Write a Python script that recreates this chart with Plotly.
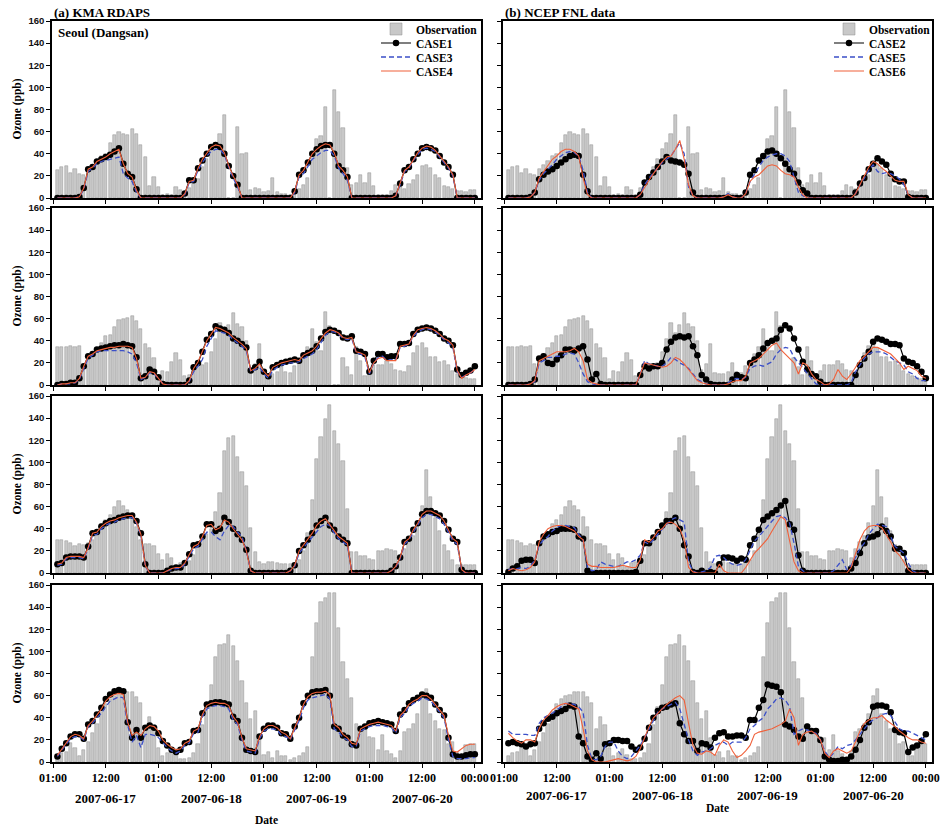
import plotly.graph_objects as go

# ---------------- data ----------------
HOURS = list(range(2, 98))  # hourly index, 01:00 2007-06-17 == 1
TICK_VALS = [1, 13, 25, 37, 49, 61, 73, 85, 97]
TICK_TEXT = ["01:00", "12:00", "01:00", "12:00", "01:00", "12:00", "01:00", "12:00", "00:00"]
DATE_POS = [13, 37, 61, 85]
DATE_TEXT = ["2007-06-17", "2007-06-18", "2007-06-19", "2007-06-20"]
Y_TICKS = [0, 20, 40, 60, 80, 100, 120, 140, 160]

# Observations (same in both columns)
OBS_ROW1 = [25, 28, 29, 23, 26, 22, 21, 26, 30, 33, 38, 40,
            50, 57, 60, 58, 57, 62, 58, 48, 37, 11, 19, 10,
            3, 4, 3, 10, 7, 3, 9, 14, 17, 28, 35, 44,
            50, 58, 75, 0, 0, 64, 40, 41, 7, 9, 8, 5,
            6, 18, 5, 4, 4, 3, 5, 8, 12, 18, 40, 53,
            56, 82, 0, 98, 78, 63, 27, 12, 14, 21, 14, 23,
            11, 3, 3, 3, 6, 12, 10, 8, 13, 16, 21, 29,
            30, 27, 21, 18, 11, 10, 8, 6, 6, 5, 7, 7]
OBS_ROW2 = [34, 34, 34, 35, 34, 35, 19, 25, 28, 33, 38, 44,
            45, 52, 59, 60, 61, 62, 58, 51, 37, 33, 24, 5,
            13, 12, 21, 29, 23, 8, 9, 15, 19, 18, 20, 30,
            42, 56, 47, 54, 65, 55, 52, 40, 14, 19, 37, 11,
            10, 10, 12, 20, 12, 11, 17, 20, 28, 34, 51, 39,
            31, 66, 53, 0, 0, 24, 16, 9, 34, 22, 8, 13,
            18, 18, 18, 22, 19, 14, 13, 12, 17, 29, 35, 38,
            33, 25, 25, 21, 22, 18, 13, 10, 8, 6, 5, 5]
OBS_ROW3 = [30, 30, 29, 27, 24, 26, 25, 27, 30, 34, 44, 48,
            52, 60, 65, 61, 57, 51, 42, 30, 26, 26, 24, 17,
            12, 17, 14, 5, 9, 10, 11, 16, 26, 30, 35, 40,
            55, 72, 110, 122, 124, 105, 91, 79, 41, 19, 10, 8,
            10, 10, 9, 8, 8, 8, 9, 12, 20, 36, 66, 103,
            123, 139, 152, 128, 117, 101, 58, 19, 19, 15, 15, 13,
            12, 20, 20, 22, 21, 20, 14, 22, 28, 33, 45, 61,
            93, 69, 50, 38, 25, 20, 12, 7, 7, 7, 7, 7]
OBS_ROW4 = [5, 8, 9, 17, 13, 5, 11, 18, 26, 34, 45, 52,
            57, 60, 61, 63, 63, 63, 59, 53, 30, 41, 33, 13,
            5, 8, 12, 6, 3, 3, 4, 8, 16, 33, 50, 70,
            95, 106, 107, 115, 105, 91, 73, 53, 39, 46, 22, 6,
            9, 4, 10, 5, 5, 2, 4, 5, 8, 14, 95, 126,
            145, 148, 153, 153, 121, 90, 75, 58, 34, 28, 30, 23,
            22, 11, 24, 10, 7, 4, 10, 27, 30, 34, 43, 60,
            66, 43, 37, 30, 29, 16, 18, 8, 5, 15, 16, 16]

# (a) KMA RDAPS : CASE1 / CASE3 / CASE4
CASE1_ROW1 = [0, 0, 0, 0, 0, 1, 9, 26, 28, 33, 35, 37,
              39, 42, 45, 31, 22, 19, 8, 0, 0, 0, 0, 0,
              0, 0, 0, 0, 0, 4, 16, 16, 27, 34, 40, 46,
              48, 46, 40, 29, 20, 12, 0, 0, 0, 0, 0, 0,
              0, 0, 0, 0, 0, 0, 6, 21, 25, 32, 40, 44,
              47, 48, 48, 40, 29, 25, 19, 0, 0, 0, 0, 0,
              0, 0, 0, 0, 0, 2, 13, 25, 28, 35, 40, 45,
              46, 45, 43, 38, 32, 28, 21, 0, 0, 0, 0, 0]
CASE3_ROW1 = [0, 0, 0, 0, 0, 1, 8, 24, 27, 31, 33, 34,
              35, 36, 37, 22, 18, 15, 5, 0, 0, 0, 0, 0,
              0, 0, 0, 0, 0, 3, 14, 15, 25, 32, 38, 42,
              44, 44, 39, 28, 18, 10, 0, 0, 0, 0, 0, 0,
              0, 0, 0, 0, 0, 0, 5, 19, 22, 28, 35, 38,
              41, 43, 43, 38, 27, 22, 16, 0, 0, 0, 0, 0,
              0, 0, 0, 0, 0, 2, 12, 24, 27, 34, 39, 44,
              45, 44, 42, 37, 31, 27, 20, 0, 0, 0, 0, 0]
CASE4_ROW1 = [0, 0, 0, 0, 0, 1, 9, 26, 28, 33, 35, 37,
              40, 42, 44, 31, 22, 19, 7, 0, 0, 0, 0, 0,
              0, 0, 0, 0, 0, 4, 15, 16, 27, 35, 40, 46,
              48, 47, 41, 29, 20, 12, 0, 0, 0, 0, 0, 0,
              0, 0, 0, 0, 0, 0, 6, 21, 25, 32, 40, 44,
              47, 49, 48, 41, 29, 25, 19, 0, 0, 0, 0, 0,
              0, 0, 0, 0, 0, 2, 13, 25, 28, 35, 41, 45,
              47, 46, 43, 38, 33, 28, 21, 0, 0, 0, 0, 0]

CASE1_ROW2 = [0, 1, 1, 2, 2, 6, 17, 26, 28, 32, 33, 34,
              35, 36, 36, 37, 36, 35, 25, 6, 8, 14, 12, 7,
              1, 0, 0, 0, 0, 0, 4, 16, 20, 30, 41, 46,
              53, 51, 50, 47, 42, 40, 37, 34, 13, 16, 21, 12,
              8, 16, 18, 20, 21, 22, 23, 22, 27, 29, 31, 35,
              42, 48, 50, 49, 47, 43, 42, 44, 31, 30, 28, 12,
              22, 28, 28, 25, 26, 26, 37, 37, 38, 46, 50, 51,
              52, 51, 49, 46, 42, 40, 36, 14, 9, 11, 13, 17]
CASE3_ROW2 = [0, 1, 1, 1, 2, 5, 15, 24, 27, 30, 31, 31,
              31, 31, 31, 31, 30, 28, 20, 5, 7, 11, 10, 6,
              1, 0, 0, 0, 0, 0, 3, 12, 17, 23, 35, 42,
              49, 48, 47, 45, 41, 38, 35, 31, 12, 14, 16, 10,
              6, 13, 16, 18, 19, 20, 20, 21, 24, 26, 28, 32,
              39, 45, 48, 48, 46, 42, 41, 42, 29, 28, 25, 10,
              20, 25, 26, 22, 23, 23, 34, 35, 37, 44, 48, 50,
              51, 50, 48, 45, 41, 38, 34, 12, 7, 9, 11, 14]
CASE4_ROW2 = [0, 1, 1, 2, 2, 6, 17, 26, 28, 31, 32, 33,
              34, 34, 35, 35, 35, 34, 24, 6, 7, 12, 11, 6,
              1, 0, 0, 0, 0, 0, 4, 15, 21, 30, 40, 46,
              52, 51, 49, 47, 43, 40, 37, 33, 13, 15, 19, 12,
              8, 16, 18, 20, 21, 22, 23, 22, 27, 29, 31, 35,
              42, 47, 50, 49, 47, 43, 42, 43, 30, 29, 27, 11,
              20, 24, 25, 22, 22, 22, 35, 36, 37, 45, 50, 51,
              52, 51, 49, 46, 42, 40, 36, 13, 6, 9, 11, 14]

CASE1_ROW3 = [8, 9, 14, 15, 15, 15, 14, 24, 36, 37, 42, 45,
              47, 48, 50, 51, 52, 52, 47, 36, 8, 0, 0, 0,
              0, 2, 4, 5, 5, 9, 17, 25, 26, 33, 44, 44,
              38, 40, 50, 46, 40, 35, 30, 21, 2, 0, 0, 0,
              0, 0, 0, 0, 0, 2, 7, 20, 25, 30, 36, 43,
              47, 50, 43, 39, 33, 30, 27, 0, 0, 0, 0, 0,
              0, 0, 0, 0, 2, 6, 14, 28, 31, 39, 45, 53,
              56, 56, 54, 52, 47, 39, 31, 28, 3, 0, 0, 0]
CASE3_ROW3 = [7, 8, 13, 14, 14, 14, 13, 22, 34, 35, 40, 43,
              45, 46, 48, 49, 50, 50, 45, 34, 6, 0, 0, 0,
              0, 2, 3, 4, 4, 8, 15, 22, 24, 30, 37, 37,
              33, 30, 38, 43, 42, 37, 33, 20, 2, 0, 0, 0,
              0, 0, 0, 0, 0, 2, 6, 18, 23, 28, 33, 38,
              42, 44, 43, 36, 31, 28, 25, 0, 0, 0, 0, 0,
              0, 0, 0, 0, 2, 5, 13, 26, 30, 37, 43, 50,
              53, 53, 51, 49, 44, 37, 29, 26, 2, 0, 0, 0]
CASE4_ROW3 = [8, 9, 14, 15, 15, 15, 14, 23, 36, 37, 42, 45,
              47, 48, 50, 51, 52, 52, 46, 35, 7, 0, 0, 0,
              0, 2, 4, 5, 5, 9, 17, 24, 26, 33, 43, 44,
              39, 41, 48, 46, 40, 35, 30, 20, 2, 0, 0, 0,
              0, 0, 0, 0, 0, 2, 7, 20, 25, 30, 36, 43,
              47, 49, 44, 39, 33, 30, 27, 0, 0, 0, 0, 0,
              0, 0, 0, 0, 2, 6, 14, 28, 31, 39, 45, 53,
              56, 56, 54, 52, 47, 39, 31, 28, 3, 0, 0, 0]

CASE1_ROW4 = [5, 12, 17, 23, 25, 25, 21, 34, 37, 43, 49, 57,
              61, 64, 65, 64, 36, 22, 29, 22, 31, 33, 31, 26,
              19, 15, 11, 9, 11, 17, 18, 28, 29, 44, 52, 53,
              54, 54, 53, 52, 41, 37, 22, 11, 10, 9, 23, 30,
              33, 33, 31, 26, 25, 21, 32, 40, 53, 60, 63, 64,
              64, 65, 60, 32, 30, 24, 22, 16, 15, 30, 32, 35,
              36, 37, 36, 35, 34, 28, 43, 47, 53, 56, 58, 61,
              60, 58, 52, 47, 42, 22, 7, 5, 5, 6, 7, 7]
CASE3_ROW4 = [5, 11, 16, 21, 23, 23, 20, 32, 35, 40, 44, 50,
              55, 57, 59, 58, 33, 18, 24, 13, 25, 25, 24, 22,
              17, 13, 10, 8, 10, 15, 17, 26, 27, 41, 48, 50,
              51, 51, 50, 48, 38, 34, 20, 10, 9, 8, 21, 28,
              30, 30, 29, 24, 23, 20, 29, 37, 49, 56, 58, 59,
              60, 61, 57, 30, 27, 22, 20, 14, 14, 28, 30, 32,
              33, 33, 33, 32, 31, 26, 40, 44, 50, 53, 55, 58,
              57, 55, 50, 45, 40, 20, 5, 3, 3, 3, 4, 4]
CASE4_ROW4 = [6, 12, 17, 23, 25, 24, 21, 33, 37, 42, 48, 55,
              59, 61, 62, 61, 36, 24, 27, 24, 30, 33, 32, 28,
              20, 16, 13, 11, 12, 17, 19, 28, 30, 43, 51, 53,
              54, 53, 53, 51, 41, 36, 22, 12, 11, 10, 23, 30,
              33, 33, 31, 27, 25, 21, 31, 40, 52, 59, 62, 63,
              63, 64, 61, 34, 31, 25, 22, 17, 16, 30, 32, 34,
              35, 36, 35, 34, 33, 28, 42, 46, 52, 55, 57, 60,
              60, 57, 52, 47, 42, 24, 10, 9, 12, 15, 16, 16]

# (b) NCEP FNL data : CASE2 / CASE5 / CASE6
CASE2_ROW1 = [0, 0, 0, 0, 0, 1, 5, 17, 21, 24, 26, 29,
              32, 35, 38, 39, 38, 21, 6, 0, 0, 0, 0, 0,
              0, 0, 0, 0, 0, 0, 3, 14, 19, 23, 28, 33,
              37, 34, 33, 32, 30, 22, 5, 0, 0, 0, 0, 0,
              0, 0, 1, 0, 0, 0, 5, 21, 25, 34, 38, 42,
              43, 40, 36, 31, 26, 22, 14, 7, 4, 0, 0, 0,
              0, 0, 0, 0, 0, 0, 0, 5, 13, 18, 26, 31,
              36, 33, 30, 22, 17, 15, 15, 1, 0, 0, 0, 0]
CASE5_ROW1 = [0, 0, 0, 0, 0, 1, 5, 16, 22, 26, 30, 35,
              38, 41, 42, 41, 38, 25, 5, 0, 0, 0, 0, 0,
              0, 0, 0, 0, 0, 0, 3, 12, 18, 23, 28, 32,
              35, 38, 44, 50, 40, 10, 2, 0, 0, 0, 0, 0,
              0, 1, 4, 1, 0, 0, 4, 15, 22, 28, 34, 37,
              39, 40, 40, 38, 33, 18, 5, 2, 0, 0, 0, 0,
              0, 0, 0, 0, 0, 0, 0, 4, 12, 18, 25, 30,
              24, 22, 23, 22, 20, 17, 12, 3, 0, 0, 0, 0]
CASE6_ROW1 = [0, 0, 0, 0, 0, 1, 5, 18, 24, 30, 35, 38,
              42, 44, 44, 42, 38, 18, 3, 0, 0, 0, 0, 0,
              0, 0, 0, 0, 0, 0, 3, 10, 16, 22, 28, 33,
              37, 38, 44, 52, 35, 12, 2, 0, 0, 0, 0, 0,
              0, 1, 3, 1, 0, 0, 4, 15, 19, 21, 25, 29,
              30, 29, 25, 22, 21, 19, 10, 3, 0, 0, 0, 0,
              0, 0, 0, 0, 0, 0, 0, 4, 12, 20, 28, 33,
              31, 27, 24, 20, 16, 15, 15, 3, 0, 0, 0, 0]

CASE2_ROW2 = [0, 0, 0, 0, 0, 1, 5, 24, 26, 20, 19, 23,
              27, 32, 32, 31, 33, 35, 23, 5, 10, 1, 0, 0,
              0, 0, 0, 0, 0, 0, 9, 17, 15, 17, 17, 20,
              32, 39, 43, 44, 43, 44, 35, 27, 9, 5, 1, 0,
              0, 0, 0, 5, 9, 7, 6, 20, 23, 27, 33, 38,
              40, 42, 50, 54, 51, 42, 32, 21, 14, 10, 8, 3,
              0, 0, 0, 0, 0, 0, 0, 9, 18, 24, 30, 39,
              42, 41, 39, 37, 37, 36, 24, 21, 20, 17, 12, 6]
CASE5_ROW2 = [0, 0, 0, 0, 0, 1, 3, 20, 22, 25, 25, 26,
              26, 28, 29, 28, 20, 10, 3, 1, 0, 0, 0, 0,
              0, 0, 0, 0, 0, 0, 10, 22, 19, 18, 17, 17,
              20, 25, 23, 20, 18, 15, 10, 5, 3, 1, 0, 0,
              0, 0, 2, 5, 6, 5, 7, 15, 17, 18, 17, 19,
              21, 28, 32, 34, 33, 25, 20, 15, 10, 5, 1, 0,
              0, 0, 0, 0, 0, 0, 2, 12, 18, 24, 28, 30,
              30, 30, 28, 25, 22, 20, 18, 12, 10, 6, 4, 4]
CASE6_ROW2 = [0, 0, 0, 0, 0, 1, 4, 22, 24, 26, 28, 30,
              30, 30, 31, 33, 30, 22, 5, 2, 1, 0, 0, 0,
              0, 0, 0, 0, 0, 0, 10, 20, 19, 18, 17, 16,
              17, 20, 25, 23, 19, 14, 8, 4, 2, 1, 0, 0,
              0, 0, 1, 3, 4, 4, 8, 20, 22, 24, 28, 32,
              36, 38, 32, 28, 24, 20, 10, 20, 18, 10, 5, 3,
              0, 1, 5, 14, 8, 5, 10, 16, 22, 26, 30, 34,
              34, 32, 30, 28, 24, 20, 14, 17, 15, 13, 8, 6]

CASE2_ROW3 = [1, 4, 6, 11, 12, 12, 9, 27, 33, 35, 37, 38,
              40, 40, 40, 39, 33, 31, 2, 0, 0, 0, 0, 0,
              0, 0, 0, 0, 0, 1, 11, 27, 27, 32, 37, 43,
              47, 47, 50, 40, 25, 15, 1, 0, 2, 0, 1, 0,
              8, 14, 14, 13, 11, 13, 12, 25, 31, 39, 48, 51,
              54, 57, 61, 65, 44, 39, 16, 2, 0, 0, 0, 0,
              0, 0, 0, 0, 0, 0, 4, 9, 18, 27, 32, 33,
              35, 42, 38, 33, 22, 22, 18, 2, 0, 0, 0, 0]
CASE5_ROW3 = [3, 4, 4, 5, 4, 6, 12, 25, 30, 33, 38, 41,
              43, 43, 42, 41, 35, 30, 5, 2, 3, 10, 8, 7,
              6, 6, 8, 10, 10, 12, 16, 28, 26, 30, 35, 40,
              44, 48, 50, 48, 46, 10, 2, 0, 1, 2, 5, 15,
              16, 14, 10, 8, 7, 8, 12, 20, 29, 33, 38, 43,
              47, 51, 52, 50, 45, 27, 6, 2, 0, 0, 0, 0,
              0, 0, 2, 7, 12, 3, 7, 14, 22, 27, 35, 40,
              44, 43, 42, 33, 24, 21, 18, 9, 2, 0, 0, 0]
CASE6_ROW3 = [2, 4, 3, 2, 3, 5, 10, 28, 35, 40, 42, 43,
              43, 42, 40, 38, 33, 30, 8, 6, 6, 5, 5, 5,
              5, 6, 7, 6, 5, 5, 12, 30, 28, 32, 38, 40,
              45, 46, 44, 40, 30, 5, 1, 0, 0, 0, 0, 0,
              8, 2, 0, 0, 0, 0, 5, 12, 18, 22, 27, 31,
              38, 45, 51, 48, 30, 10, 2, 0, 0, 0, 0, 0,
              0, 0, 0, 0, 0, 0, 5, 17, 30, 38, 42, 43,
              43, 41, 35, 28, 20, 16, 10, 3, 0, 0, 0, 0]

CASE2_ROW4 = [17, 18, 17, 16, 14, 16, 17, 30, 35, 39, 41, 44,
              46, 48, 51, 50, 23, 17, 5, 2, 8, 3, 16, 17,
              20, 20, 19, 19, 14, 11, 13, 21, 31, 40, 46, 49,
              50, 52, 53, 35, 25, 19, 19, 10, 17, 16, 13, 22,
              26, 27, 23, 23, 24, 24, 22, 38, 38, 49, 56, 70,
              69, 68, 63, 34, 32, 29, 23, 21, 32, 28, 28, 20,
              5, 2, 1, 1, 2, 2, 5, 11, 20, 31, 36, 50,
              51, 51, 50, 45, 29, 27, 26, 9, 13, 15, 19, 25]
CASE5_ROW4 = [28, 25, 25, 25, 25, 24, 24, 35, 40, 42, 44, 47,
              50, 53, 53, 52, 50, 45, 15, 3, 2, 5, 14, 18,
              18, 10, 5, 3, 5, 10, 15, 22, 30, 38, 45, 48,
              50, 52, 54, 48, 35, 20, 10, 6, 9, 10, 12, 15,
              17, 18, 15, 18, 18, 18, 22, 30, 33, 37, 40, 48,
              52, 57, 58, 56, 50, 25, 28, 30, 29, 27, 26, 20,
              10, 4, 8, 14, 12, 15, 16, 20, 25, 30, 35, 38,
              40, 43, 44, 42, 36, 30, 28, 28, 26, 24, 22, 20]
CASE6_ROW4 = [26, 22, 19, 17, 20, 20, 18, 30, 38, 42, 47, 50,
              52, 53, 52, 50, 48, 30, 10, 2, 0, 0, 0, 1,
              2, 3, 2, 1, 2, 5, 12, 22, 32, 40, 44, 48,
              52, 55, 58, 60, 56, 35, 15, 8, 7, 10, 9, 6,
              15, 20, 18, 10, 4, 6, 10, 15, 25, 27, 28, 29,
              30, 32, 34, 37, 48, 40, 15, 25, 27, 28, 25, 20,
              8, 4, 10, 12, 10, 8, 10, 18, 28, 35, 38, 40,
              40, 42, 38, 35, 32, 28, 25, 22, 20, 20, 18, 17]

OBS = [OBS_ROW1, OBS_ROW2, OBS_ROW3, OBS_ROW4]
LEFT = [(CASE1_ROW1, CASE3_ROW1, CASE4_ROW1), (CASE1_ROW2, CASE3_ROW2, CASE4_ROW2),
        (CASE1_ROW3, CASE3_ROW3, CASE4_ROW3), (CASE1_ROW4, CASE3_ROW4, CASE4_ROW4)]
RIGHT = [(CASE2_ROW1, CASE5_ROW1, CASE6_ROW1), (CASE2_ROW2, CASE5_ROW2, CASE6_ROW2),
         (CASE2_ROW3, CASE5_ROW3, CASE6_ROW3), (CASE2_ROW4, CASE5_ROW4, CASE6_ROW4)]
LEFT_NAMES = ["CASE1", "CASE3", "CASE4"]
RIGHT_NAMES = ["CASE2", "CASE5", "CASE6"]

# ---------------- layout helpers ----------------
W, H = 944, 829
COL_PX = [(52, 481), (503, 932)]
ROW_PX = [(21, 198), (208, 385), (396, 573), (585, 762)]
LEGEND_X_PX = [376, 829]
LEGEND_Y_PX = [29, 43, 57, 71]
SERIF = "Liberation Serif"
SANS = "Liberation Sans"
BLACK = "#000000"
BLUE = "#3b4fc8"
RED = "#f0603a"

fig = go.Figure()
layout = dict(template="none", width=W, height=H,
              margin=dict(l=0, r=0, t=0, b=0, pad=0, autoexpand=False),
              plot_bgcolor="white", paper_bgcolor="white", showlegend=True,
              bargap=0, annotations=[])


def legend_id(c, i):
    n = c * 4 + i + 1
    return "legend" if n == 1 else f"legend{n}"


for r in range(4):
    for c in range(2):
        k = r * 2 + c + 1
        xa = "x" if k == 1 else f"x{k}"
        ya = "y" if k == 1 else f"y{k}"
        show = (r == 0)
        series = LEFT[r] if c == 0 else RIGHT[r]
        names = LEFT_NAMES if c == 0 else RIGHT_NAMES
        fig.add_trace(go.Bar(x=HOURS, y=OBS[r], width=0.72, xaxis=xa, yaxis=ya,
                             name="Observation", showlegend=show, legend=legend_id(c, 0),
                             marker=dict(color="#c8c8c8", line=dict(color="#8f8f8f", width=0.5))))
        fig.add_trace(go.Scatter(x=HOURS, y=series[0], xaxis=xa, yaxis=ya, mode="lines+markers",
                                 name=names[0], showlegend=show, legend=legend_id(c, 1),
                                 line=dict(color=BLACK, width=1.2),
                                 marker=dict(color=BLACK, size=6.5, symbol="circle")))
        fig.add_trace(go.Scatter(x=HOURS, y=series[1], xaxis=xa, yaxis=ya, mode="lines",
                                 name=names[1], showlegend=show, legend=legend_id(c, 2),
                                 line=dict(color=BLUE, width=1.3, dash="5px,3px")))
        fig.add_trace(go.Scatter(x=HOURS, y=series[2], xaxis=xa, yaxis=ya, mode="lines",
                                 name=names[2], showlegend=show, legend=legend_id(c, 3),
                                 line=dict(color=RED, width=1.1)))

        x0, x1 = COL_PX[c]
        top, bot = ROW_PX[r]
        xkey = "xaxis" if k == 1 else f"xaxis{k}"
        ykey = "yaxis" if k == 1 else f"yaxis{k}"
        layout[xkey] = dict(domain=[x0 / W, x1 / W], anchor=ya, range=[0.77, 98.4],
                            automargin=False,
                            tickmode="array", tickvals=TICK_VALS, ticktext=TICK_TEXT,
                            showticklabels=(r == 3), ticks="outside", ticklen=4, tickwidth=1,
                            tickcolor=BLACK, showline=True, linecolor=BLACK, linewidth=1.6,
                            mirror=True, showgrid=False, zeroline=False,
                            tickfont=dict(family=SERIF, size=12, color=BLACK, weight="bold"))
        layout[ykey] = dict(domain=[(H - bot) / H, (H - top) / H], anchor=xa, range=[0, 160],
                            automargin=False,
                            tickmode="array", tickvals=Y_TICKS, showticklabels=(c == 0),
                            ticks="outside", ticklen=4, tickwidth=1, tickcolor=BLACK,
                            showline=True, linecolor=BLACK, linewidth=1.6, mirror=True,
                            showgrid=False, zeroline=False,
                            tickfont=dict(family=SANS, size=9.5, color="#111", weight="bold"))
        if c == 0:
            layout["annotations"].append(dict(
                text="Ozone (ppb)", textangle=-90, xref="paper", x=17 / W, xanchor="center",
                yref=f"{ya} domain", y=0.5, yanchor="middle", showarrow=False,
                font=dict(family=SERIF, size=11.5, color=BLACK, weight="bold")))
        if r == 3:
            for pos, txt in zip(DATE_POS, DATE_TEXT):
                layout["annotations"].append(dict(
                    text=txt, xref=xa, x=pos, xanchor="center", yref="paper",
                    y=(H - (798 if c == 0 else 795)) / H, yanchor="middle", showarrow=False,
                    font=dict(family=SERIF, size=13, color=BLACK, weight="bold")))
            layout["annotations"].append(dict(
                text="Date", xref=f"{xa} domain", x=0.5, xanchor="center", yref="paper",
                y=(H - (820 if c == 0 else 808)) / H, yanchor="middle", showarrow=False,
                font=dict(family=SERIF, size=11.5, color=BLACK, weight="bold")))

# panel titles and station label
layout["annotations"] += [
    dict(text="(a) KMA RDAPS", xref="paper", x=52 / W, xanchor="left", yref="paper",
         y=(H - 12) / H, yanchor="middle", showarrow=False,
         font=dict(family=SERIF, size=13, color=BLACK, weight="bold")),
    dict(text="(b) NCEP FNL data", xref="paper", x=503 / W, xanchor="left", yref="paper",
         y=(H - 12) / H, yanchor="middle", showarrow=False,
         font=dict(family=SERIF, size=13, color=BLACK, weight="bold")),
    dict(text="Seoul (Dangsan)", xref="paper", x=56 / W, xanchor="left", yref="paper",
         y=(H - 33) / H, yanchor="middle", showarrow=False,
         font=dict(family=SERIF, size=13, color=BLACK, weight="bold")),
]

# one single-entry legend per item so the rows can sit 14 px apart as in the original
for c in range(2):
    for i in range(4):
        layout[legend_id(c, i)] = dict(
            x=LEGEND_X_PX[c] / W, y=(H - LEGEND_Y_PX[i]) / H, xanchor="left", yanchor="middle",
            bgcolor="rgba(0,0,0,0)", borderwidth=0, itemwidth=30,
            font=dict(family=SERIF, size=11.5, color=BLACK, weight="bold"))

fig.update_layout(**layout)
fig.write_html("out.html")
